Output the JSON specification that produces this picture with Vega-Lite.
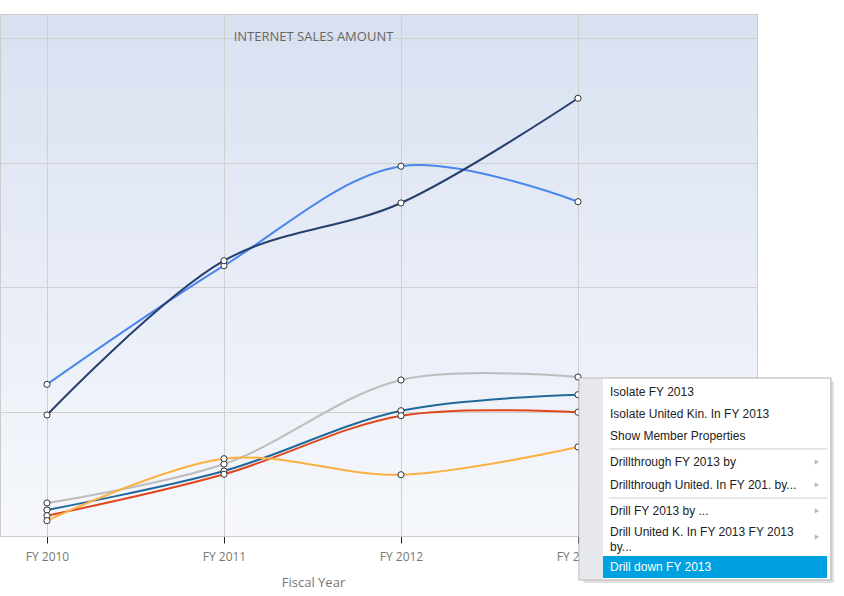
{
  "$schema": "https://vega.github.io/schema/vega-lite/v6.json",
  "width": 757,
  "height": 522,
  "autosize": "none",
  "padding": {"left": 0, "top": 14, "right": 87, "bottom": 60},
  "background": "#ffffff",
  "title": {
    "text": "INTERNET SALES AMOUNT",
    "anchor": "middle",
    "orient": "top",
    "offset": -40,
    "dx": -65,
    "baseline": "alphabetic",
    "font": "Open Sans",
    "fontSize": 13,
    "fontWeight": "normal",
    "color": "#666666"
  },
  "config": {
    "view": {
      "stroke": "#cccccc",
      "fill": {
        "gradient": "linear",
        "x1": 0, "y1": 0, "x2": 0, "y2": 1,
        "stops": [
          {"offset": 0, "color": "#d9e1f1"},
          {"offset": 1, "color": "#f6f8fc"}
        ]
      }
    },
    "axis": {
      "gridColor": "#d0d0d0",
      "gridWidth": 1,
      "domainColor": "#cccccc",
      "labelFont": "Open Sans",
      "titleFont": "Open Sans"
    }
  },
  "datasets": {
    "sales": [
      {"country": "Australia", "year": 2010, "sales": 1.218},
      {"country": "Australia", "year": 2011, "sales": 2.171},
      {"country": "Australia", "year": 2012, "sales": 2.970},
      {"country": "Australia", "year": 2013, "sales": 2.685},
      {"country": "United States", "year": 2010, "sales": 0.972},
      {"country": "United States", "year": 2011, "sales": 2.211},
      {"country": "United States", "year": 2012, "sales": 2.675},
      {"country": "United States", "year": 2013, "sales": 3.516},
      {"country": "United Kingdom", "year": 2010, "sales": 0.265},
      {"country": "United Kingdom", "year": 2011, "sales": 0.578},
      {"country": "United Kingdom", "year": 2012, "sales": 1.253},
      {"country": "United Kingdom", "year": 2013, "sales": 1.277},
      {"country": "Germany", "year": 2010, "sales": 0.209},
      {"country": "Germany", "year": 2011, "sales": 0.522},
      {"country": "Germany", "year": 2012, "sales": 1.006},
      {"country": "Germany", "year": 2013, "sales": 1.135},
      {"country": "France", "year": 2010, "sales": 0.163},
      {"country": "France", "year": 2011, "sales": 0.496},
      {"country": "France", "year": 2012, "sales": 0.966},
      {"country": "France", "year": 2013, "sales": 0.994},
      {"country": "Canada", "year": 2010, "sales": 0.123},
      {"country": "Canada", "year": 2011, "sales": 0.621},
      {"country": "Canada", "year": 2012, "sales": 0.492},
      {"country": "Canada", "year": 2013, "sales": 0.715}
    ],
    "menuBox": [
      {"x1": 2013.0056, "x2": 2014.429, "y1": 1.269, "y2": -0.353}
    ],
    "menuShadow": [
      {"x1": 2013.03, "x2": 2014.446, "y1": 1.245, "y2": -0.377}
    ],
    "menuStrip": [
      {"x1": 2013.011, "x2": 2013.141, "y1": 1.261, "y2": -0.345}
    ],
    "menuHighlight": [
      {"x1": 2013.141, "x2": 2014.407, "y1": -0.161, "y2": -0.337}
    ],
    "menuSeparators": [
      {"x1": 2013.175, "x2": 2014.412, "y": 0.699},
      {"x1": 2013.175, "x2": 2014.412, "y": 0.305}
    ],
    "menuItems": [
      {"label": ["Isolate FY 2013"], "x": 2013.181, "y": 1.157},
      {"label": ["Isolate United Kin. In FY 2013"], "x": 2013.181, "y": 0.980},
      {"label": ["Show Member Properties"], "x": 2013.181, "y": 0.803},
      {"label": ["Drillthrough FY 2013 by"], "x": 2013.181, "y": 0.594},
      {"label": ["Drillthrough United. In FY 201. by..."], "x": 2013.181, "y": 0.410},
      {"label": ["Drill FY 2013 by ..."], "x": 2013.181, "y": 0.201},
      {"label": ["Drill United K. In FY 2013 FY 2013", "by..."], "x": 2013.181, "y": 0.032}
    ],
    "menuActive": [
      {"label": "Drill down FY 2013", "x": 2013.181, "y": -0.249}
    ],
    "menuArrows": [
      {"x": 2014.350, "y": 0.594},
      {"x": 2014.350, "y": 0.410},
      {"x": 2014.350, "y": 0.201},
      {"x": 2014.350, "y": -0.008}
    ]
  },
  "layer": [
    {
      "data": {"name": "sales"},
      "mark": {"type": "line", "interpolate": "catmull-rom", "strokeWidth": 2},
      "encoding": {
        "x": {
          "field": "year", "type": "quantitative", "title": "Fiscal Year",
          "scale": {"domain": [2009.7345, 2014.0113], "nice": false, "zero": false},
          "axis": {
            "values": [2010, 2011, 2012, 2013],
            "labelExpr": "'FY ' + datum.value",
            "titleX": 313,
            "titleY": 40,
            "titleFontSize": 13,
            "titleFontWeight": "normal",
            "titleColor": "#777777",
            "labelFontSize": 12,
            "labelColor": "#777777",
            "labelPadding": 8,
            "tickColor": "#222222",
            "tickSize": 7,
            "grid": true
          }
        },
        "y": {
          "field": "sales", "type": "quantitative", "title": null,
          "scale": {"domain": [0, 4.1928], "nice": false, "zero": false},
          "axis": {
            "values": [0, 1, 2, 3, 4],
            "labels": false,
            "ticks": false,
            "domain": false,
            "grid": true
          }
        },
        "color": {
          "field": "country", "type": "nominal",
          "scale": {
            "domain": ["Australia", "United States", "United Kingdom", "Germany", "France", "Canada"],
            "range": ["#4a87ec", "#263f6e", "#bdbdbd", "#21699b", "#e0471c", "#fbb040"]
          },
          "legend": null
        },
        "order": {"field": "year"}
      }
    },
    {
      "data": {"name": "sales"},
      "mark": {"type": "point", "filled": true, "fill": "#ffffff", "stroke": "#333333", "strokeWidth": 1, "size": 38, "opacity": 1},
      "encoding": {
        "x": {"field": "year", "type": "quantitative", "title": "Fiscal Year"},
        "y": {"field": "sales", "type": "quantitative", "title": null}
      }
    },
    {
      "data": {"name": "menuShadow"},
      "mark": {"type": "rect", "fill": "#000000", "opacity": 0.12, "clip": false},
      "encoding": {
        "x": {"field": "x1", "type": "quantitative", "title": "Fiscal Year"},
        "x2": {"field": "x2"},
        "y": {"field": "y1", "type": "quantitative", "title": null},
        "y2": {"field": "y2"}
      }
    },
    {
      "data": {"name": "menuBox"},
      "mark": {"type": "rect", "fill": "#ffffff", "stroke": "#b0b0b0", "strokeWidth": 1, "clip": false},
      "encoding": {
        "x": {"field": "x1", "type": "quantitative", "title": "Fiscal Year"},
        "x2": {"field": "x2"},
        "y": {"field": "y1", "type": "quantitative", "title": null},
        "y2": {"field": "y2"}
      }
    },
    {
      "data": {"name": "menuStrip"},
      "mark": {"type": "rect", "fill": "#e7e8ee", "clip": false},
      "encoding": {
        "x": {"field": "x1", "type": "quantitative", "title": "Fiscal Year"},
        "x2": {"field": "x2"},
        "y": {"field": "y1", "type": "quantitative", "title": null},
        "y2": {"field": "y2"}
      }
    },
    {
      "data": {"name": "menuHighlight"},
      "mark": {"type": "rect", "fill": "#00a1e0", "clip": false},
      "encoding": {
        "x": {"field": "x1", "type": "quantitative", "title": "Fiscal Year"},
        "x2": {"field": "x2"},
        "y": {"field": "y1", "type": "quantitative", "title": null},
        "y2": {"field": "y2"}
      }
    },
    {
      "data": {"name": "menuSeparators"},
      "mark": {"type": "rule", "color": "#cfcfcf", "strokeWidth": 1, "clip": false},
      "encoding": {
        "x": {"field": "x1", "type": "quantitative", "title": "Fiscal Year"},
        "x2": {"field": "x2"},
        "y": {"field": "y", "type": "quantitative", "title": null}
      }
    },
    {
      "data": {"name": "menuItems"},
      "mark": {"type": "text", "align": "left", "baseline": "middle", "font": "Liberation Sans", "fontSize": 12, "lineHeight": 15, "color": "#222222", "clip": false},
      "encoding": {
        "x": {"field": "x", "type": "quantitative", "title": "Fiscal Year"},
        "y": {"field": "y", "type": "quantitative", "title": null},
        "text": {"field": "label"}
      }
    },
    {
      "data": {"name": "menuActive"},
      "mark": {"type": "text", "align": "left", "baseline": "middle", "font": "Liberation Sans", "fontSize": 12, "color": "#ffffff", "clip": false},
      "encoding": {
        "x": {"field": "x", "type": "quantitative", "title": "Fiscal Year"},
        "y": {"field": "y", "type": "quantitative", "title": null},
        "text": {"field": "label"}
      }
    },
    {
      "data": {"name": "menuArrows"},
      "mark": {"type": "point", "shape": "triangle-right", "filled": true, "color": "#a0a0a0", "size": 28, "clip": false},
      "encoding": {
        "x": {"field": "x", "type": "quantitative", "title": "Fiscal Year"},
        "y": {"field": "y", "type": "quantitative", "title": null}
      }
    }
  ]
}
